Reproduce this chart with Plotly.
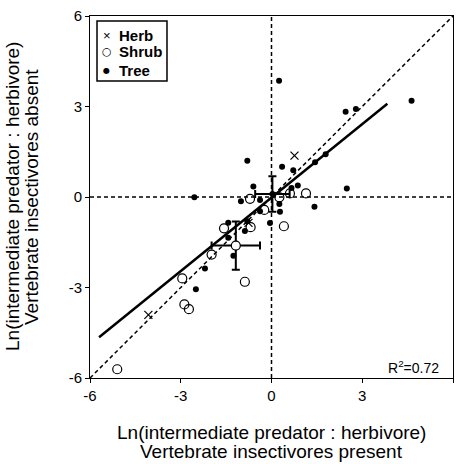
import plotly.graph_objects as go

# ---- data ----
tree_x = [0.25, 2.45, 2.79, 4.63, 1.79, 1.44, 2.49, 1.42, 0.87, 0.66, 0.72, 0.35, -0.80, -2.55,
          -0.60, -1.01, -0.38, 0.26, 0.28, -0.38, -0.05, -1.43, -0.80, -0.88, -1.43, -1.26, -2.20, -2.50]
tree_y = [3.85, 2.83, 2.92, 3.19, 1.42, 1.15, 0.28, -0.32, 0.38, 0.30, 0.89, 1.00, 1.20, -0.01,
          0.35, -0.14, -0.10, -0.23, -0.49, -0.47, -0.86, -0.85, -0.80, -1.13, -1.35, -1.95, -2.37, -3.06]

shrub_x = [1.14, 0.61, 0.26, -0.71, -0.24, 0.41, -1.57, -0.69, -1.98, -0.88, -2.95, -2.88, -2.73, -5.10]
shrub_y = [0.12, 0.12, -0.01, -0.06, -0.43, -0.97, -1.04, -1.00, -1.91, -2.81, -2.70, -3.56, -3.72, -5.71]

herb_x = [0.76, -4.07, -0.76]
herb_y = [1.37, -3.91, -0.86]

# group means with error bars
mean_tree = {"x": [0.03], "y": [0.10], "xerr": [0.57], "yerr": [0.59]}
mean_shrub = {"x": [-1.18], "y": [-1.61], "xerr": [0.80], "yerr": [0.80]}

# fitted regression line endpoints and 1:1 reference line
fit_x = [-5.70, 3.83]
fit_y = [-4.65, 3.09]
ref_x = [-6, 6]
ref_y = [-6, 6]

ticks = [-6, -3, 0, 3, 6]
r2_text = "R<sup>2</sup>=0.72"
legend_labels = ["Herb", "Shrub", "Tree"]
legend_glyphs = ["\u00d7", "\u25cb", "\u25cf"]
x_title = ["Ln(intermediate predator : herbivore)", "Vertebrate insectivores present"]
y_title = ["Ln(intermediate predator : herbivore)", "Vertebrate insectivores absent"]

FONT = "Arial, Liberation Sans, sans-serif"
DASH = "4px,3px"

fig = go.Figure()

# 1:1 line
fig.add_trace(go.Scatter(x=ref_x, y=ref_y, mode="lines", showlegend=False, hoverinfo="skip",
                         line=dict(color="black", width=1.5, dash=DASH)))
# regression line
fig.add_trace(go.Scatter(x=fit_x, y=fit_y, mode="lines", showlegend=False, hoverinfo="skip",
                         line=dict(color="black", width=2.5)))

fig.add_trace(go.Scatter(x=herb_x, y=herb_y, mode="markers", name="Herb", showlegend=False,
                         marker=dict(symbol="x-thin-open", size=8, color="black",
                                     line=dict(color="black", width=1.2))))
fig.add_trace(go.Scatter(x=shrub_x, y=shrub_y, mode="markers", name="Shrub", showlegend=False,
                         marker=dict(symbol="circle-open", size=9, color="black",
                                     line=dict(color="black", width=1.2))))
fig.add_trace(go.Scatter(x=tree_x, y=tree_y, mode="markers", name="Tree", showlegend=False,
                         marker=dict(symbol="circle", size=6, color="black")))

# means with error bars
fig.add_trace(go.Scatter(x=mean_tree["x"], y=mean_tree["y"], mode="markers", showlegend=False,
                         marker=dict(symbol="circle", size=6, color="black"),
                         error_x=dict(type="data", array=mean_tree["xerr"], color="black", thickness=2, width=4),
                         error_y=dict(type="data", array=mean_tree["yerr"], color="black", thickness=2, width=4)))
fig.add_trace(go.Scatter(x=mean_shrub["x"], y=mean_shrub["y"], mode="markers", showlegend=False,
                         marker=dict(symbol="circle", size=9, color="white",
                                     line=dict(color="black", width=1.2)),
                         error_x=dict(type="data", array=mean_shrub["xerr"], color="black", thickness=2, width=4),
                         error_y=dict(type="data", array=mean_shrub["yerr"], color="black", thickness=2, width=4)))

axis_common = dict(range=[-6, 6], tickvals=ticks, ticktext=[str(t) for t in ticks],
                   showgrid=False, zeroline=False, showline=True, linecolor="black", linewidth=1,
                   mirror=True, ticks="outside", ticklen=4, tickcolor="black", tickwidth=1,
                   tickfont=dict(family=FONT, size=15, color="black"))

annotations = [
    dict(text=r2_text, xref="paper", yref="paper", x=0.967, y=0.03, xanchor="right",
         yanchor="middle", showarrow=False, font=dict(family=FONT, size=14, color="black")),
]
# axis titles (one annotation per line for tight line spacing)
for line, shift in zip(x_title, [-54, -73]):
    annotations.append(dict(text=line, xref="paper", yref="paper", x=0.5, y=0, xanchor="center",
                            yanchor="middle", yshift=shift, showarrow=False,
                            font=dict(family=FONT, size=19, color="black")))
for line, shift in zip(y_title, [-78, -59]):
    annotations.append(dict(text=line, xref="paper", yref="paper", x=0, y=0.5, xanchor="center",
                            yanchor="middle", xshift=shift, textangle=-90, showarrow=False,
                            font=dict(family=FONT, size=19, color="black")))
# legend (text entries inside a framed box)
legend_rows_y = [0.9475, 0.9006, 0.8508]
glyph_sizes = [13, 11, 8]
glyph_fonts = [FONT, "DejaVu Sans", "DejaVu Sans"]
for lab, gl, gy, gs, gf in zip(legend_labels, legend_glyphs, legend_rows_y, glyph_sizes, glyph_fonts):
    annotations.append(dict(text=gl, xref="paper", yref="paper", x=0.0468, y=gy, xanchor="center",
                            yanchor="middle", showarrow=False,
                            font=dict(family=gf, size=gs, color="black")))
    annotations.append(dict(text="<b>" + lab + "</b>", xref="paper", yref="paper", x=0.0744, y=gy,
                            xanchor="left", yanchor="middle", showarrow=False,
                            font=dict(family=FONT, size=15, color="black")))

fig.update_layout(
    width=457, height=464,
    margin=dict(l=90, r=4, t=16, b=86),
    paper_bgcolor="white", plot_bgcolor="white",
    xaxis=axis_common, yaxis=axis_common,
    showlegend=False,
    shapes=[
        dict(type="line", xref="x", yref="paper", x0=0, x1=0, y0=0, y1=1,
             line=dict(color="black", width=1.5, dash=DASH), layer="below"),
        dict(type="line", xref="paper", yref="y", x0=0, x1=1, y0=0, y1=0,
             line=dict(color="black", width=1.5, dash=DASH), layer="below"),
        dict(type="rect", xref="paper", yref="paper", x0=0.0193, x1=0.2121, y0=0.8204, y1=0.9862,
             line=dict(color="black", width=1.5), fillcolor="white", layer="above"),
    ],
    annotations=annotations,
)

fig.write_html("out.html", config={"displayModeBar": False},
               post_script="document.body.style.margin='0';")
